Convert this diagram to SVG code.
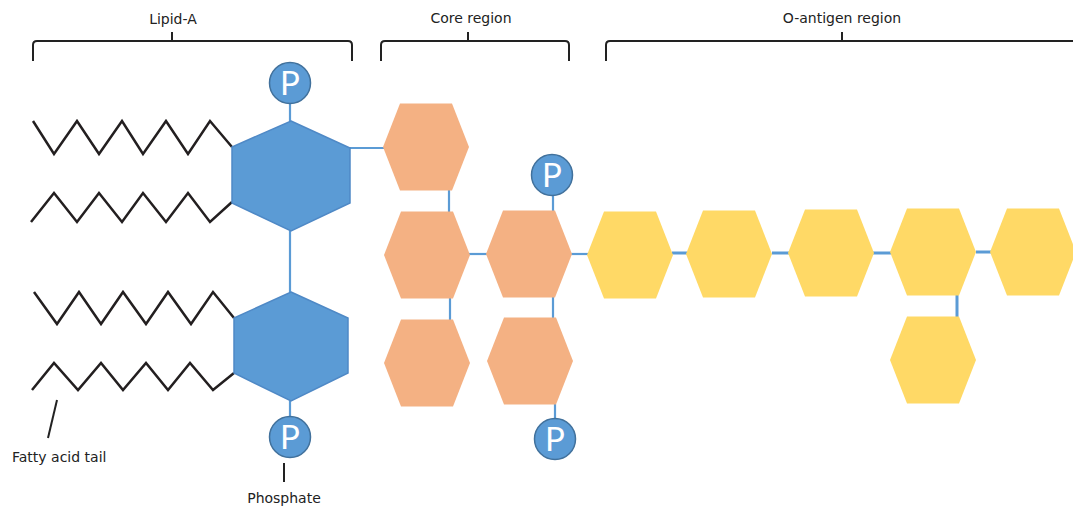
<svg xmlns="http://www.w3.org/2000/svg" width="1073" height="508" viewBox="0 0 1073 508">
  <defs>
    <style>
      .lbl { font-family: "DejaVu Sans", "Verdana", sans-serif; font-size: 14px; fill: #222; }
      .brk { fill: none; stroke: #222; stroke-width: 2; }
      .tail { fill: none; stroke: #231f20; stroke-width: 2.5; stroke-linejoin: miter; }
      .bond { stroke: #5b9bd5; stroke-width: 2.2; fill: none; }
      .bond2 { stroke: #5b9bd5; stroke-width: 3; fill: none; }
      .glc { fill: #5b9bd5; stroke: #4f89c6; stroke-width: 1.5; }
      .core { fill: #f4b183; }
      .oag { fill: #ffd966; }
      .pcirc { fill: #5b9bd5; stroke: #41719c; stroke-width: 1.5; }
      .ptxt { font-family: "Lato", "Open Sans", sans-serif; font-weight: 400; font-size: 33px; fill: #ffffff; text-anchor: middle; }
      .lead { stroke: #222; stroke-width: 2; }
    </style>
    <!-- flat-topped sugar ring, centred on 0,0 -->
    <polygon id="hex" points="-43,0 -26,-43.5 26,-43.5 43,0 26,43.5 -26,43.5"/>
    <g id="phos">
      <circle class="pcirc" r="20.5"/>
      <text class="ptxt" y="12">P</text>
    </g>
  </defs>

  <rect width="1073" height="508" fill="#ffffff"/>

  <!-- region brackets -->
  <g id="brackets">
    <path class="brk" d="M33,61 L33,45 Q33,41 37,41 L348,41 Q352,41 352,45 L352,61 M172,41 L172,32"/>
    <path class="brk" d="M381,61 L381,45 Q381,41 385,41 L565,41 Q569,41 569,45 L569,61 M468,41 L468,32"/>
    <path class="brk" d="M606,61 L606,45 Q606,41 610,41 L1073,41 M842,41 L842,32"/>
    <text class="lbl" x="173" y="24" text-anchor="middle">Lipid-A</text>
    <text class="lbl" x="471" y="23" text-anchor="middle">Core region</text>
    <text class="lbl" x="842" y="23" text-anchor="middle">O-antigen region</text>
  </g>

  <!-- connectors -->
  <g id="connectors">
    <line class="bond" x1="290" y1="104" x2="290" y2="121"/>
    <line class="bond" x1="290" y1="231" x2="290" y2="292"/>
    <line class="bond" x1="290" y1="401" x2="290" y2="416"/>
    <line class="bond" x1="349" y1="148" x2="384" y2="148"/>
    <line class="bond" x1="449" y1="189" x2="449" y2="213"/>
    <line class="bond" x1="450" y1="298" x2="450" y2="320"/>
    <line class="bond" x1="469" y1="254" x2="487" y2="254"/>
    <line class="bond" x1="553" y1="195" x2="553" y2="211"/>
    <line class="bond" x1="553" y1="297" x2="553" y2="318"/>
    <line class="bond" x1="555" y1="404" x2="555" y2="419"/>
    <line class="bond" x1="571" y1="254" x2="589" y2="254"/>
    <line class="bond2" x1="672" y1="253" x2="687" y2="253"/>
    <line class="bond2" x1="772" y1="253" x2="789" y2="253"/>
    <line class="bond2" x1="873" y1="253" x2="891" y2="253"/>
    <line class="bond2" x1="976" y1="252" x2="991" y2="252"/>
    <line class="bond2" x1="957" y1="295" x2="957" y2="318"/>
  </g>

  <!-- fatty acid tails -->
  <g id="fatty-acids">
    <polyline class="tail" points="33,121 54,154 77,121 99,154 122,121 143,154 166,121 188,154 210,121 232,147"/>
    <polyline class="tail" points="31,222 54,193 77,222 99,193 122,222 143,193 166,222 188,193 210,222 232,202"/>
    <polyline class="tail" points="34,292 57,324 79,292 101,324 123,292 146,324 168,292 191,324 213,292 234,318"/>
    <polyline class="tail" points="32,390 54,363 78,390 101,363 123,390 146,363 168,390 190,363 213,390 234,373"/>
  </g>

  <!-- lipid-A glucosamine rings -->
  <g id="glcn-1">
    <polygon class="glc" points="291,121 350,148 350,203 291,231 232,203 232,147"/>
  </g>
  <g id="glcn-2">
    <polygon class="glc" points="291,292 348,318 348,373 291,401 234,373 234,318"/>
  </g>

  <!-- phosphate groups -->
  <g id="phosphate-1"><use href="#phos" x="290" y="83"/></g>
  <g id="phosphate-2"><use href="#phos" x="290" y="437"/></g>
  <g id="phosphate-3"><use href="#phos" x="552" y="175"/></g>
  <g id="phosphate-4"><use href="#phos" x="555" y="439"/></g>

  <!-- core oligosaccharide -->
  <g id="core-1" class="core"><use href="#hex" x="426" y="147"/></g>
  <g id="core-2" class="core"><use href="#hex" x="427" y="255"/></g>
  <g id="core-3" class="core"><use href="#hex" x="427" y="363"/></g>
  <g id="core-4" class="core"><use href="#hex" x="529" y="254"/></g>
  <g id="core-5" class="core"><use href="#hex" x="530" y="361"/></g>

  <!-- O-antigen repeat units -->
  <g id="oag-1" class="oag"><use href="#hex" x="630" y="255"/></g>
  <g id="oag-2" class="oag"><use href="#hex" x="729" y="254"/></g>
  <g id="oag-3" class="oag"><use href="#hex" x="831" y="253"/></g>
  <g id="oag-4" class="oag"><use href="#hex" x="933" y="252"/></g>
  <g id="oag-5" class="oag"><use href="#hex" x="1033" y="252"/></g>
  <g id="oag-6" class="oag"><use href="#hex" x="933" y="360"/></g>

  <!-- callouts -->
  <g id="callout-tail">
    <line class="lead" x1="57" y1="400" x2="48" y2="438"/>
    <text class="lbl" x="12" y="462">Fatty acid tail</text>
  </g>
  <g id="callout-phosphate">
    <line class="lead" x1="284" y1="463" x2="284" y2="482"/>
    <text class="lbl" x="284" y="503" text-anchor="middle">Phosphate</text>
  </g>
</svg>
